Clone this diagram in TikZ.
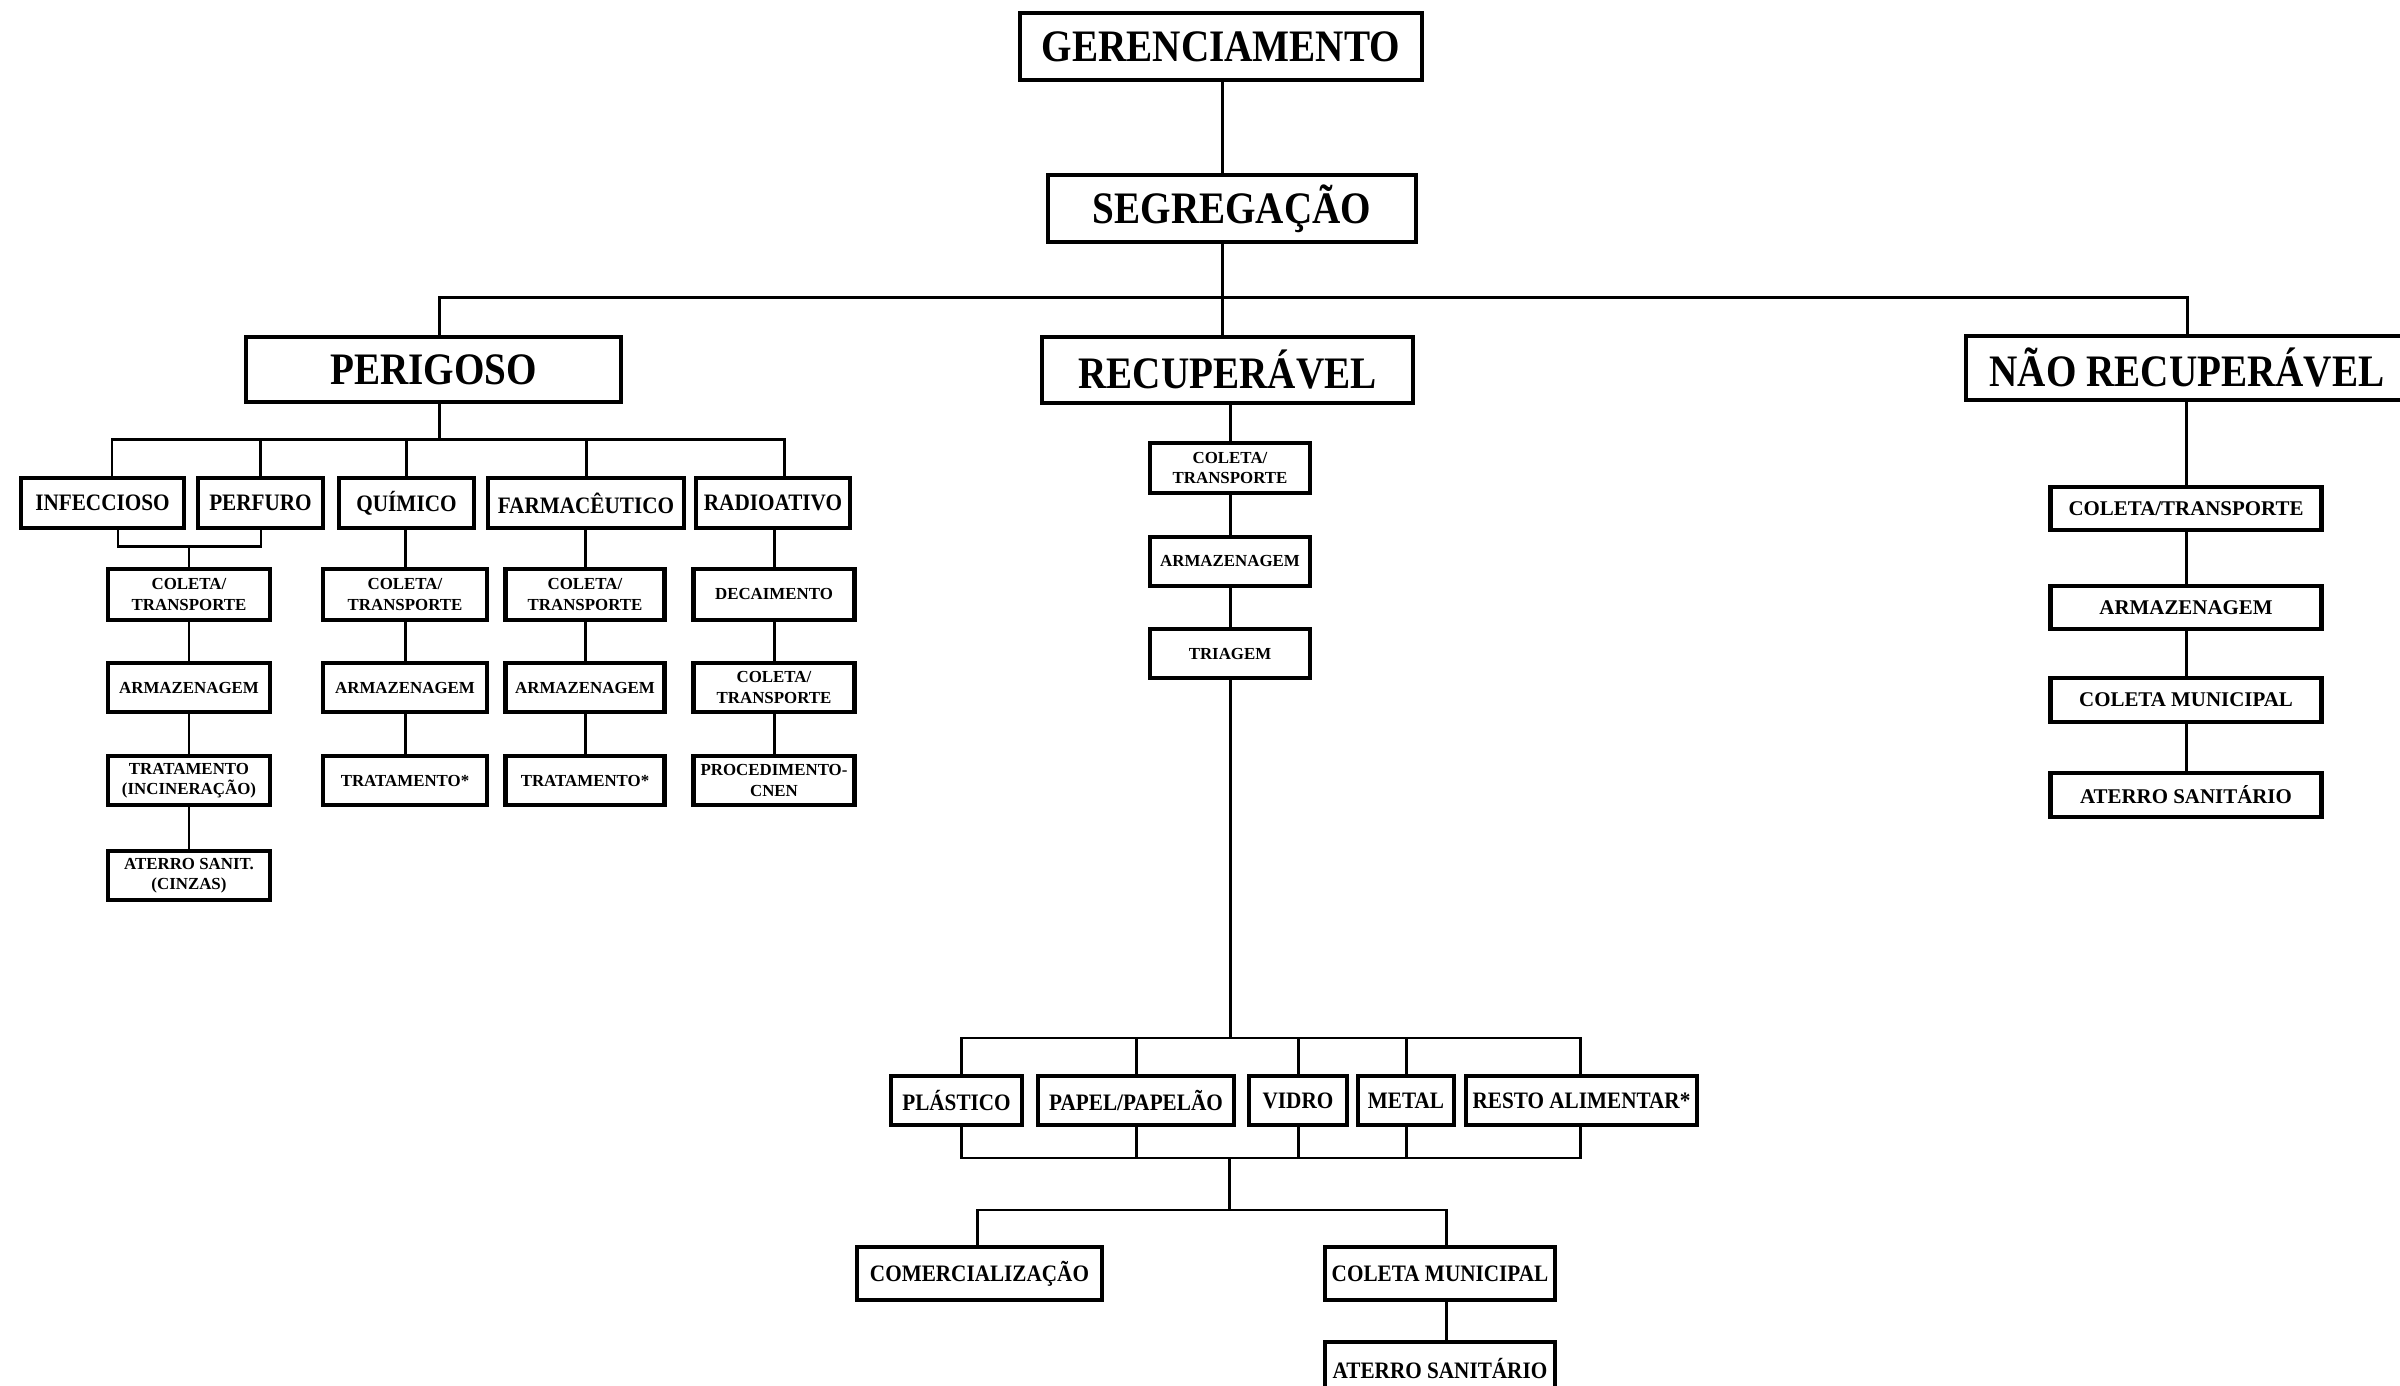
\documentclass[tikz,border=0pt]{standalone}
\usepackage{fontspec}
\setmainfont{Liberation Serif}
\newfontfamily\headfont[FakeStretch=0.87]{Liberation Serif}
\newfontfamily\midfont[FakeStretch=0.9]{Liberation Serif}
\begin{document}
\begin{tikzpicture}[x=0.01cm, y=-0.01cm,
  box/.style={draw, line width=1.25pt, inner sep=0pt, align=center, fill=white},
  big/.style={box, font=\headfont\bfseries\fontsize{12.8}{14}\selectfont},
  mid/.style={box, minimum height=0.5cm, font=\midfont\bfseries\fontsize{6.7}{7.5}\selectfont},
  tiny/.style={box, font=\bfseries\fontsize{4.8}{5.7}\selectfont},
  side/.style={box, minimum width=2.71cm, font=\bfseries\fontsize{5.95}{7}\selectfont},
  link/.style={line width=0.85pt}]
\useasboundingbox (0,0) rectangle (2400,1386);
\clip (0,0) rectangle (2400,1386);

% ---- top levels
\node[big, minimum width=4.02cm, minimum height=0.67cm] (ger) at (1221,46.5) {GERENCIAMENTO};
\node[big, minimum width=3.68cm, minimum height=0.67cm] (seg) at (1232,208.5) {SEGREGAÇÃO};
\node[big, minimum width=3.75cm, minimum height=0.65cm] (per) at (433.5,369.5) {PERIGOSO};
\node[big, minimum width=3.71cm, minimum height=0.66cm] (rec) at (1227.5,370) {RECUPERÁVEL};
\node[big, minimum width=4.42cm, minimum height=0.64cm] (nrec) at (2187,368) {NÃO RECUPERÁVEL};

% ---- hazardous classes
\node[mid, minimum width=1.63cm] (inf)  at (102.5,503) {INFECCIOSO};
\node[mid, minimum width=1.25cm] (perf) at (260.5,503) {PERFURO};
\node[mid, minimum width=1.35cm] (qui)  at (406.5,503) {QUÍMICO};
\node[mid, minimum width=1.96cm] (far)  at (586,503) {FARMACÊUTICO};
\node[mid, minimum width=1.54cm] (rad)  at (773,503) {RADIOATIVO};

% infectious / sharps chain
\node[tiny, minimum width=1.62cm, minimum height=0.51cm] (ic1) at (189,594.5) {COLETA/\\TRANSPORTE};
\node[tiny, minimum width=1.62cm, minimum height=0.49cm] (ic2) at (189,687.5) {ARMAZENAGEM};
\node[tiny, minimum width=1.62cm, minimum height=0.49cm] (ic3) at (189,780.5) {TRATAMENTO\\(INCINERAÇÃO)};
\node[tiny, minimum width=1.62cm, minimum height=0.49cm] (ic4) at (189,875.5) {ATERRO SANIT.\\(CINZAS)};

% chemical chain
\node[tiny, minimum width=1.64cm, minimum height=0.51cm] (qc1) at (405,594.5) {COLETA/\\TRANSPORTE};
\node[tiny, minimum width=1.64cm, minimum height=0.49cm] (qc2) at (405,687.5) {ARMAZENAGEM};
\node[tiny, minimum width=1.64cm, minimum height=0.49cm] (qc3) at (405,780.5) {TRATAMENTO*};

% pharmaceutical chain
\node[tiny, minimum width=1.59cm, minimum height=0.51cm] (fc1) at (585,594.5) {COLETA/\\TRANSPORTE};
\node[tiny, minimum width=1.59cm, minimum height=0.49cm] (fc2) at (585,687.5) {ARMAZENAGEM};
\node[tiny, minimum width=1.59cm, minimum height=0.49cm] (fc3) at (585,780.5) {TRATAMENTO*};

% radioactive chain
\node[tiny, minimum width=1.61cm, minimum height=0.51cm] (rc1) at (774,594.5) {DECAIMENTO};
\node[tiny, minimum width=1.61cm, minimum height=0.49cm] (rc2) at (774,687.5) {COLETA/\\TRANSPORTE};
\node[tiny, minimum width=1.61cm, minimum height=0.49cm] (rc3) at (774,780.5) {PROCEDIMENTO-\\CNEN};

% ---- recoverable chain
\node[tiny, minimum width=1.60cm, minimum height=0.50cm] (mc1) at (1230,468) {COLETA/\\TRANSPORTE};
\node[tiny, minimum width=1.60cm, minimum height=0.49cm] (mc2) at (1230,561.5) {ARMAZENAGEM};
\node[tiny, minimum width=1.60cm, minimum height=0.49cm] (mc3) at (1230,653.5) {TRIAGEM};

\node[mid, minimum width=1.31cm, minimum height=0.49cm] (pla) at (956.5,1100.5) {PLÁSTICO};
\node[mid, minimum width=1.96cm, minimum height=0.49cm] (pap) at (1136,1100.5) {PAPEL/PAPELÃO};
\node[mid, minimum width=0.98cm, minimum height=0.49cm] (vid) at (1298,1100.5) {VIDRO};
\node[mid, minimum width=0.96cm, minimum height=0.49cm] (met) at (1406,1100.5) {METAL};
\node[mid, minimum width=2.31cm, minimum height=0.49cm] (res) at (1581.5,1100.5) {RESTO ALIMENTAR*};

\node[mid, minimum width=2.45cm, minimum height=0.53cm] (com)  at (979.5,1273.5) {COMERCIALIZAÇÃO};
\node[mid, minimum width=2.30cm, minimum height=0.53cm] (cmun) at (1440,1273.5) {COLETA MUNICIPAL};
\node[mid, minimum width=2.30cm, minimum height=0.53cm] (ater) at (1440,1368.5) {ATERRO SANITÁRIO};

% ---- non-recoverable chain
\node[side, minimum height=0.43cm] (n1) at (2186,508.5) {COLETA/TRANSPORTE};
\node[side, minimum height=0.43cm] (n2) at (2186,607.5) {ARMAZENAGEM};
\node[side, minimum height=0.44cm] (n3) at (2186,700) {COLETA MUNICIPAL};
\node[side, minimum height=0.44cm] (n4) at (2186,795) {ATERRO SANITÁRIO};

% ---- connectors: top
\coordinate (sx) at (1222,298);
\coordinate (bl) at (439,298);
\coordinate (br) at (2187,298);
\draw[link] (ger.south -| sx) -- (seg.north -| sx);
\draw[link] (seg.south -| sx) -- (rec.north -| sx);
\draw[link] (per.north -| bl) -- (bl) -- (br) -- (nrec.north -| br);

% hazardous branch
\coordinate (pl) at (112,440);
\coordinate (pr) at (784,440);
\coordinate (pc) at (439,440);
\draw[link] (per.south -| pc) -- (pc);
\draw[link] (inf.north -| pl) -- (pl) -- (pr) -- (rad.north -| pr);
\draw[link] (perf.north) -- (perf.north |- pl);
\draw[link] (qui.north) -- (qui.north |- pl);
\draw[link] (far.north) -- (far.north |- pl);
\coordinate (kl) at (118,547);
\coordinate (kr) at (261,547);
\draw[link] (inf.south -| kl) -- (kl) -- (kr) -- (perf.south -| kr);
\draw[link] (ic1.north |- kl) -- (ic1.north);
\draw[link] (ic1) -- (ic2) (ic2) -- (ic3) (ic3) -- (ic4);
\draw[link] (qui.south -| qc1) -- (qc1.north);
\draw[link] (qc1) -- (qc2) (qc2) -- (qc3);
\draw[link] (far.south -| fc1) -- (fc1.north);
\draw[link] (fc1) -- (fc2) (fc2) -- (fc3);
\draw[link] (rad.south -| rc1) -- (rc1.north);
\draw[link] (rc1) -- (rc2) (rc2) -- (rc3);

% recoverable branch
\draw[link] (rec.south -| mc1) -- (mc1.north);
\draw[link] (mc1) -- (mc2) (mc2) -- (mc3);
\coordinate (tl) at (961,1038);
\coordinate (tr) at (1580,1038);
\draw[link] (mc3.south) -- (mc3.south |- tl);
\draw[link] (pla.north -| tl) -- (tl) -- (tr) -- (res.north -| tr);
\draw[link] (pap.north) -- (pap.north |- tl);
\draw[link] (vid.north) -- (vid.north |- tl);
\draw[link] (met.north) -- (met.north |- tl);
\coordinate (ul) at (961,1158);
\coordinate (ur) at (1580,1158);
\draw[link] (pla.south -| ul) -- (ul) -- (ur) -- (res.south -| ur);
\draw[link] (pap.south) -- (pap.south |- ul);
\draw[link] (vid.south) -- (vid.south |- ul);
\draw[link] (met.south) -- (met.south |- ul);
\coordinate (dc) at (1229,1210);
\coordinate (dl) at (977,1210);
\coordinate (dr) at (1446,1210);
\draw[link] (dc |- ul) -- (dc);
\draw[link] (com.north -| dl) -- (dl) -- (dr) -- (cmun.north -| dr);
\draw[link] (cmun.south -| dr) -- (ater.north -| dr);

% non-recoverable branch
\draw[link] (nrec.south -| n1) -- (n1.north);
\draw[link] (n1) -- (n2) (n2) -- (n3) (n3) -- (n4);
\end{tikzpicture}
\end{document}
